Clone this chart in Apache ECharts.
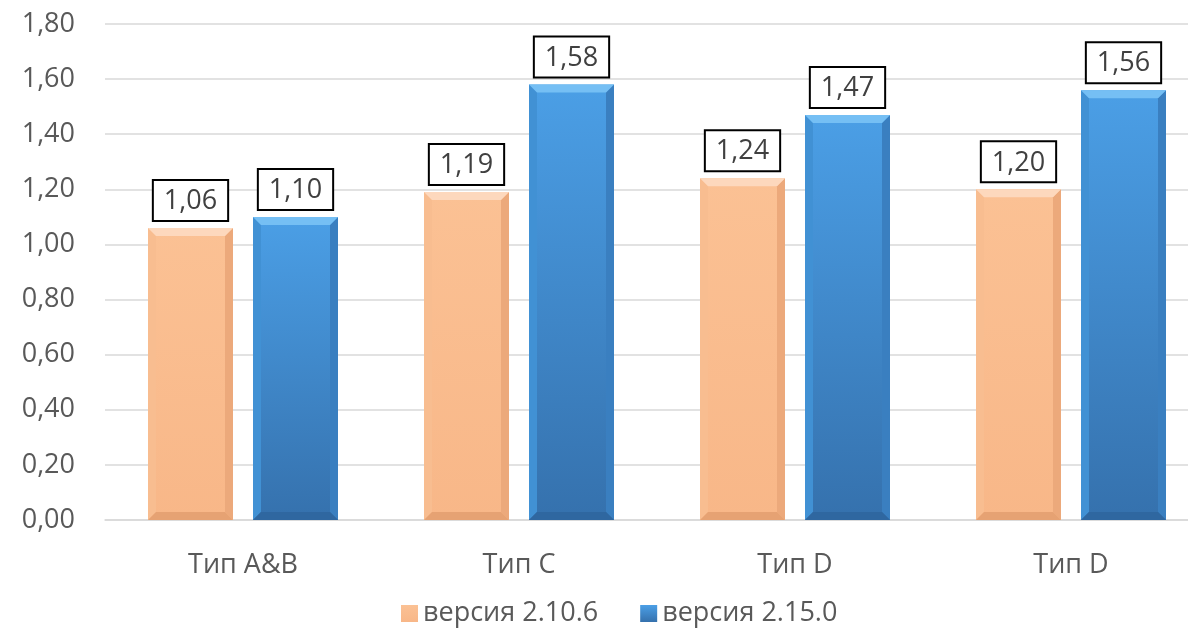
<!DOCTYPE html>
<html>
<head>
<meta charset="utf-8">
<script src="https://cdn.jsdelivr.net/npm/echarts@6/dist/echarts.min.js"></script>
<style>
  html, body { margin: 0; padding: 0; background: #fff; }
  #chart { width: 1188px; height: 637px; }
</style>
</head>
<body>
<div id="chart"></div>
<script>
// Categories and values
const categories = ['Тип A&B', 'Тип C', 'Тип D', 'Тип D'];
const seriesNames = ['версия 2.10.6', 'версия 2.15.0'];
const v2106 = [1.06, 1.19, 1.24, 1.20];
const v2150 = [1.10, 1.58, 1.47, 1.56];
const yTicks = [0, 0.2, 0.4, 0.6, 0.8, 1.0, 1.2, 1.4, 1.6, 1.8];

const fmt = v => v.toFixed(2).replace('.', ',');
const FONT = '"Open Sans", "DejaVu Sans", sans-serif';

const BAR_W = 85;
const BAR_GAP = 20;
const BEVEL = 8;

const palette = {
  orange: {
    face: new echarts.graphic.LinearGradient(0, 0, 0, 1, [
      { offset: 0, color: '#fbc194' },
      { offset: 1, color: '#f8b788' }
    ]),
    top: '#fdd8bd', left: '#f8bd90', right: '#eca97b', bottom: '#e6a273'
  },
  blue: {
    face: new echarts.graphic.LinearGradient(0, 0, 0, 1, [
      { offset: 0, color: '#4b9fe6' },
      { offset: 1, color: '#3571ad' }
    ]),
    top: '#75bff4', left: '#4191d4', right: '#3a7fc0', bottom: '#2f67a0'
  }
};

const labelStyle = {
  show: true,
  position: 'top',
  distance: 8,
  formatter: p => fmt(p.value),
  fontFamily: FONT,
  fontSize: 27,
  color: '#404040',
  backgroundColor: '#fff',
  borderColor: '#000',
  borderWidth: 2,
  padding: [7, 10, 5, 10]
};

// Bevelled edges drawn over each bar face
function bevelSeries(values, offset, colors) {
  return {
    type: 'custom',
    z: 3,
    silent: true,
    data: values.map((v, i) => [i, v]),
    encode: { x: 0, y: 1 },
    renderItem: (params, api) => {
      const ci = api.value(0);
      const v = api.value(1);
      const base = api.coord([ci, 0]);
      const top = api.coord([ci, v]);
      const cx = base[0] + offset;
      const x0 = cx - BAR_W / 2, x1 = cx + BAR_W / 2;
      const y0 = top[1], y1 = base[1], b = BEVEL;
      const poly = (pts, fill) => ({ type: 'polygon', shape: { points: pts }, style: { fill } });
      return {
        type: 'group',
        children: [
          poly([[x0, y0], [x0 + b, y0 + b], [x0 + b, y1 - b], [x0, y1]], colors.left),
          poly([[x1, y0], [x1, y1], [x1 - b, y1 - b], [x1 - b, y0 + b]], colors.right),
          poly([[x0, y1], [x0 + b, y1 - b], [x1 - b, y1 - b], [x1, y1]], colors.bottom),
          poly([[x0, y0], [x1, y0], [x1 - b, y0 + b], [x0 + b, y0 + b]], colors.top)
        ]
      };
    }
  };
}

const offset = BAR_W / 2 + BAR_GAP / 2;

const chart = echarts.init(document.getElementById('chart'));
chart.setOption({
  animation: false,
  // plot area runs past the right edge of the canvas
  grid: { left: 105, width: 1104, top: 24, bottom: 117, containLabel: false, outerBoundsMode: 'none' },
  legend: {
    bottom: 5,
    left: 396,
    itemWidth: 17,
    itemHeight: 17,
    itemGap: 42,
    icon: 'rect',
    textStyle: { fontFamily: FONT, fontSize: 27, color: '#595959', padding: [2, 0, 0, 0] },
    data: seriesNames
  },
  xAxis: {
    type: 'category',
    data: categories,
    axisLine: { lineStyle: { color: '#d9d9d9', width: 1.5 } },
    axisTick: { show: false },
    axisLabel: { fontFamily: FONT, fontSize: 27, color: '#595959', margin: 32 }
  },
  yAxis: {
    type: 'value',
    min: yTicks[0],
    max: yTicks[yTicks.length - 1],
    interval: 0.2,
    axisLine: { show: false },
    axisTick: { show: false },
    splitLine: { lineStyle: { color: '#d9d9d9', width: 1.5 } },
    axisLabel: { fontFamily: FONT, fontSize: 27, color: '#595959', margin: 30, formatter: v => fmt(v) }
  },
  series: [
    {
      name: seriesNames[0],
      type: 'bar',
      data: v2106,
      barWidth: BAR_W,
      barGap: (BAR_GAP / BAR_W * 100) + '%',
      itemStyle: { color: palette.orange.face },
      label: labelStyle,
      z: 2
    },
    {
      name: seriesNames[1],
      type: 'bar',
      data: v2150,
      barWidth: BAR_W,
      itemStyle: { color: palette.blue.face },
      label: labelStyle,
      z: 2
    },
    bevelSeries(v2106, -offset, palette.orange),
    bevelSeries(v2150, offset, palette.blue)
  ]
});
</script>
</body>
</html>
